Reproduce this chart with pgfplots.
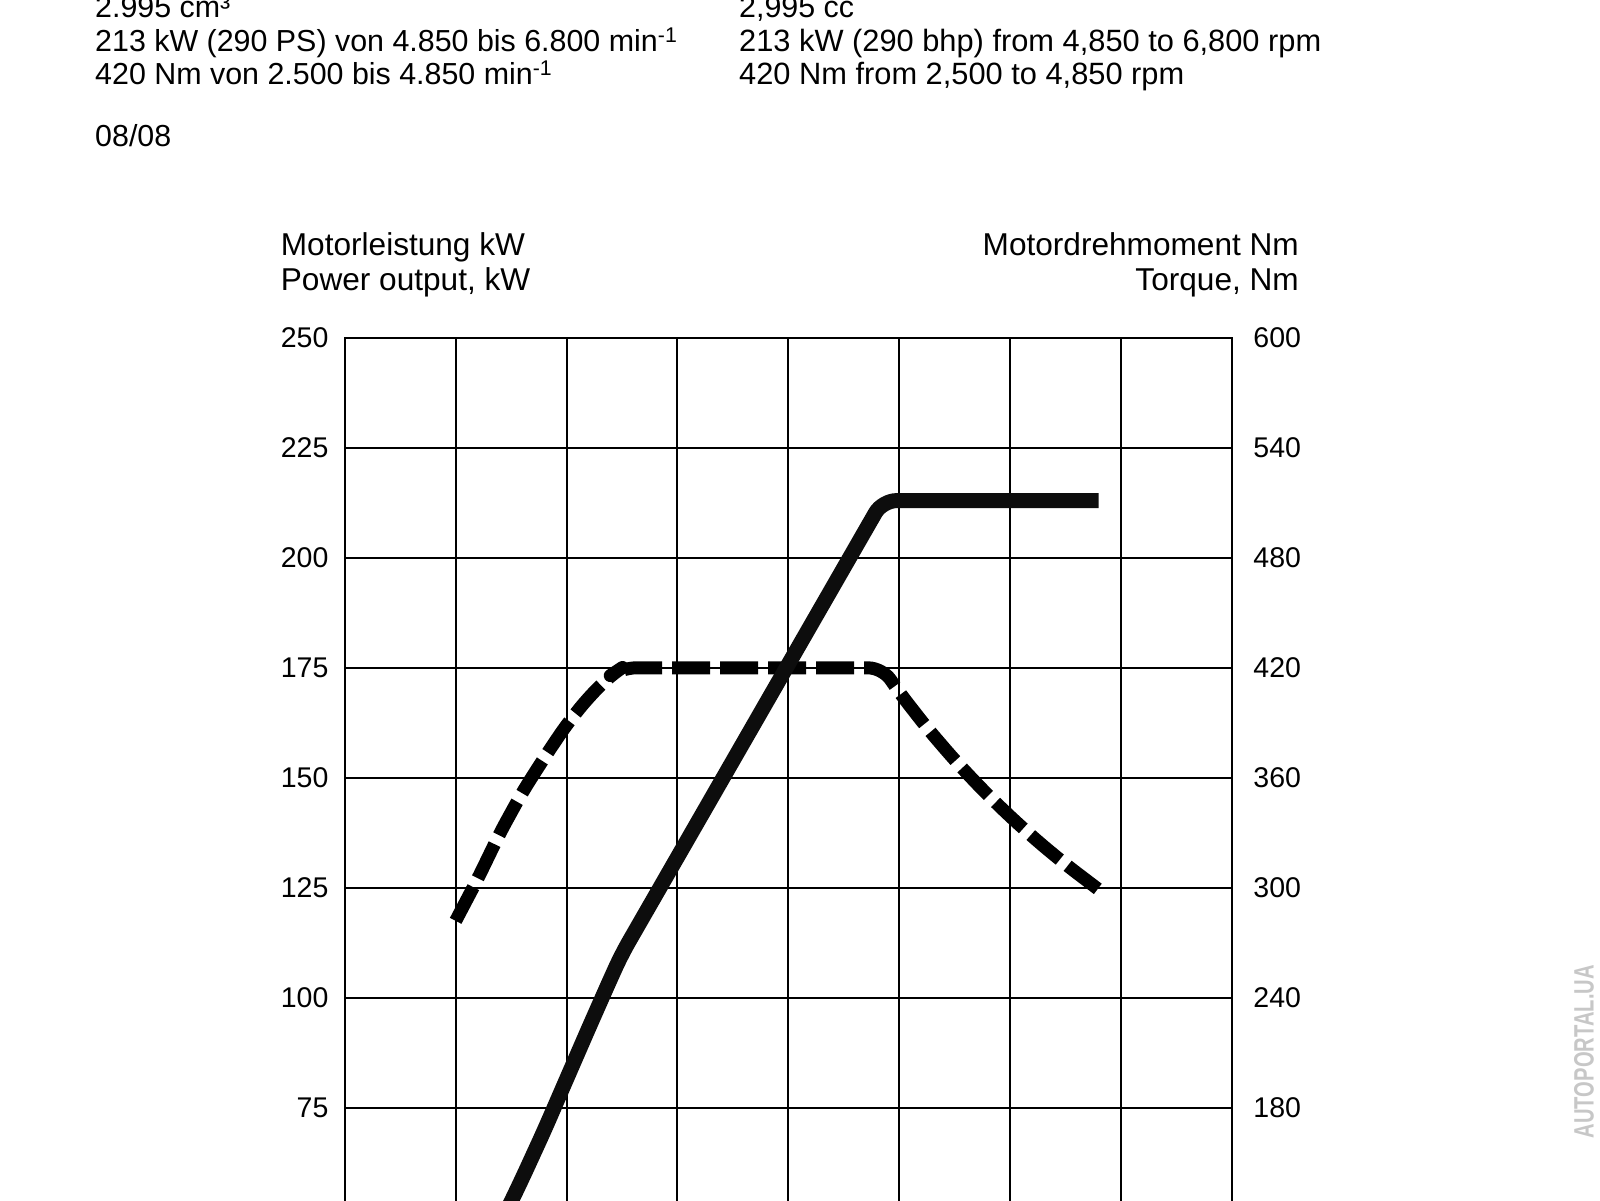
\documentclass[border=0pt]{standalone}
\usepackage{fontspec}
\setmainfont{Liberation Sans}
\usepackage{graphicx}
\usepackage{pgfplots}
\pgfplotsset{compat=1.18}
\begin{document}
\begin{tikzpicture}[x=1pt,y=1pt]
\useasboundingbox (0,0) rectangle (1600,1200);
\clip (0,0) rectangle (1600,1200);
\fill[white] (0,0) rectangle (1600,1200);
\pgfplotsset{
  common/.style={
    scale only axis, width=886.8pt, height=1100pt,
    xmin=0, xmax=8000,
    at={(344.8pt,-237.8pt)}, anchor=south west,
    major tick length=0pt, tick style={draw=none},
    xtick={0,1000,...,8000}, xticklabels={},
    /pgf/number format/assume math mode=true,
    clip=true,
  },
}
% right axis: torque, grid
\begin{axis}[common,
  ymin=0, ymax=600, ytick={180,240,...,600},
  extra y ticks={0,60,120}, extra y tick labels={},
  extra y tick style={grid=major},
  yticklabel pos=right,
  grid=major, major grid style={black, line width=2pt},
  axis line style={draw=none},
  yticklabel style={font=\fontsize{28.5}{30}\selectfont, anchor=west, inner sep=0pt, xshift=21.6pt},
]
\addplot[black, line width=13pt, line cap=butt, line join=round, rounded corners=14pt,
  dash pattern=on 38pt off 10pt] coordinates {
  (1000,282) (1200,305) (1400,330) (1600,352) (1800,371) (2000,389)
  (2200,404) (2400,416) (2500,420) (4850,420) (5000,406.8) (5250,387.4)
  (5500,369.8) (5750,353.7) (6000,339.0) (6250,325.4) (6500,312.9) (6800,299.1)
};
\end{axis}
% left axis: power, frame
\begin{axis}[common,
  ymin=0, ymax=250, ytick={75,100,...,250},
  yticklabel pos=left,
  axis line style={black, line width=2pt},
  yticklabel style={font=\fontsize{28.5}{30}\selectfont, anchor=east, inner sep=0pt, xshift=-16.2pt},
]
\addplot[black!95, line width=15pt, line cap=butt, line join=round, rounded corners=14pt] coordinates {
  (1000,29.6) (1200,38.3) (1400,48.4) (1600,58.9) (1800,69.9) (2000,81.5)
  (2200,93.1) (2400,104.5) (2500,110) (4850,213) (6800,213)
};
\end{axis}
% texts
\begin{scope}[every node/.style={inner sep=0pt, font=\fontsize{30.4}{34}\selectfont}]
\node[anchor=base west] at (95,1182.5) {2.995 cm³};
\node[anchor=base west] at (95,1148.3) {213 kW (290 PS) von 4.850 bis 6.800 min\textsuperscript{-1}};
\node[anchor=base west] at (95,1115) {420 Nm von 2.500 bis 4.850 min\textsuperscript{-1}};
\node[anchor=base west] at (95,1053.5) {08/08};
\node[anchor=base west] at (739,1182.5) {2,995 cc};
\node[anchor=base west] at (739,1148.3) {\fontsize{30.8}{34}\selectfont 213 kW (290 bhp) from 4,850 to 6,800 rpm};
\node[anchor=base west] at (739,1115) {\fontsize{30.8}{34}\selectfont 420 Nm from 2,500 to 4,850 rpm};
\end{scope}
\begin{scope}[every node/.style={inner sep=0pt, font=\fontsize{31.6}{36}\selectfont}]
\node[anchor=base west] at (280.7,944.3) {Motorleistung kW};
\node[anchor=base west] at (280.7,909.5) {Power output, kW};
\node[anchor=base east] at (1299,944.3) {Motordrehmoment Nm};
\node[anchor=base east] at (1299,909.5) {Torque, Nm};
\end{scope}
\node[rotate=90, inner sep=0pt, text=black!22, font=\bfseries\fontsize{28}{28}\selectfont] at (1584,148.3) {\scalebox{0.72}[1]{AUTOPORTAL.UA}};
\end{tikzpicture}
\end{document}
